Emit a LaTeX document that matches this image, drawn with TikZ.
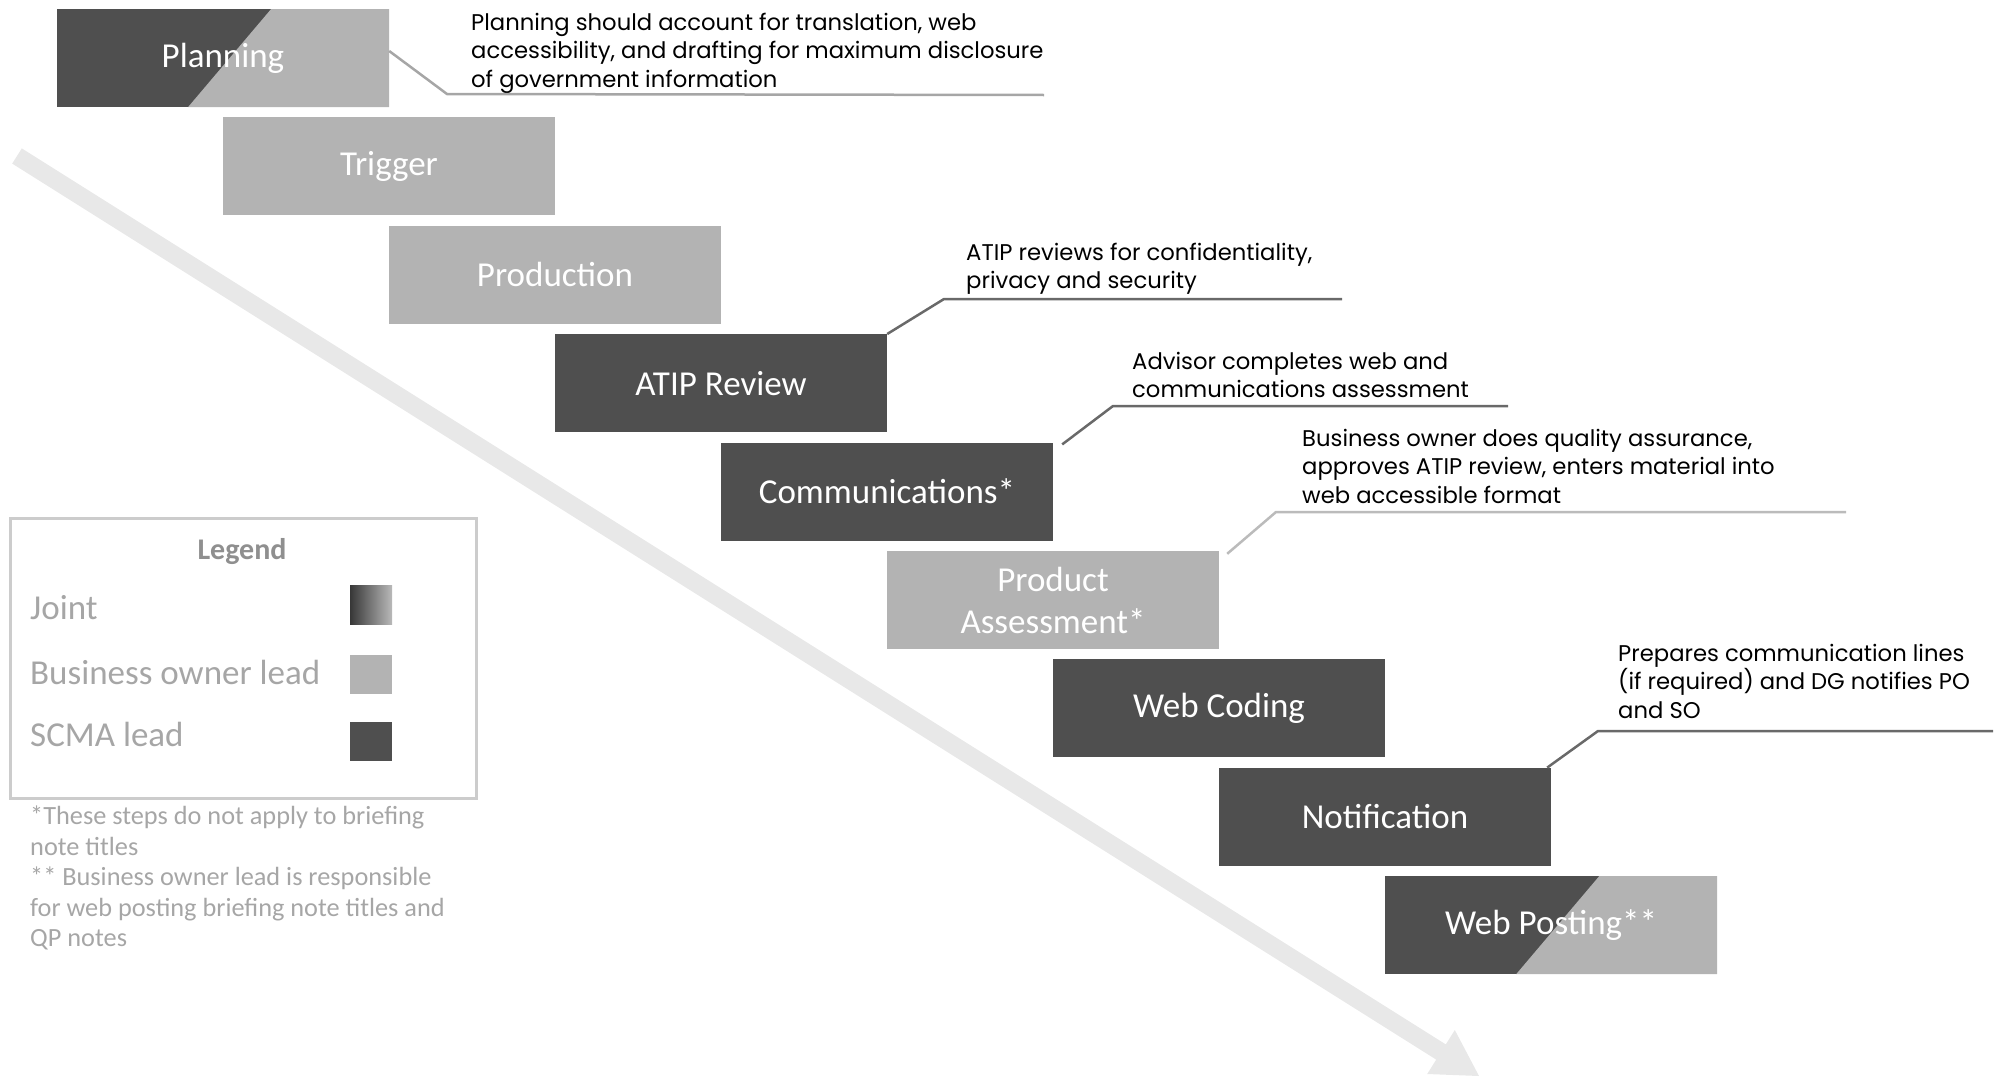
\documentclass[tikz,border=0pt]{standalone}
\usepackage{fontspec}
\setmainfont{Carlito}
\newfontfamily\notefont{Poppins}
\usetikzlibrary{calc}

\definecolor{leadDark}{HTML}{4F4F4F}
\definecolor{leadLight}{HTML}{B3B3B3}
\definecolor{flowArrow}{HTML}{E8E8E8}
\definecolor{legendLine}{HTML}{CCCCCC}
\definecolor{legendText}{HTML}{A6A6A6}
\definecolor{legendHead}{HTML}{8F8F8F}

\tikzset{
  stepbox/.style={minimum width=332pt, minimum height=98pt, inner sep=0pt,
    text=white, align=center, font=\fontsize{35}{36}\selectfont},
  scma/.style={stepbox, fill=leadDark},
  owner/.style={stepbox, fill=leadLight},
  joint/.style={stepbox, fill=leadDark,
    path picture={
      \fill[leadLight]
        ($(path picture bounding box.north west)!0.645!(path picture bounding box.north east)$)
        -- (path picture bounding box.north east)
        -- (path picture bounding box.south east)
        -- ($(path picture bounding box.south west)!0.395!(path picture bounding box.south east)$)
        -- cycle;}},
  note/.style={anchor=west, align=left, inner sep=0pt, text=black,
    font=\notefont\fontsize{22.7}{28.5}\selectfont},
  callout/.style={line width=2.5pt, draw=leadDark!85},
  calloutlight/.style={line width=2.5pt, draw=leadLight!90},
  calloutmid/.style={line width=2.5pt, draw=gray!70},
  legtext/.style={anchor=west, inner sep=0pt, text=legendText,
    font=\fontsize{35}{38}\selectfont},
  swatch/.style={minimum width=42pt, minimum height=39pt, inner sep=0pt},
}

\begin{document}
\begin{tikzpicture}[x=1pt,y=-1pt]
\useasboundingbox (0,0) rectangle (2001,1076);

% process flow arrow behind the steps
\fill[flowArrow] (21.8,148.4) -- (1445.8,1044.4) -- (1454.8,1030.0)
  -- (1479,1076) -- (1427.2,1074.0) -- (1436.2,1059.6) -- (12.2,163.6) -- cycle;

% the nine steps
\node[joint] (plan)  at (223,58)    {Planning};
\node[owner] (trig)  at (389,166.4) {Trigger};
\node[owner] (prod)  at (555,274.8) {Production};
\node[scma]  (atip)  at (721,383.2) {ATIP Review};
\node[scma]  (comm)  at (887,491.6) {Communications*};
\node[owner] (assess) at (1053,600) {Product\\[6pt]Assessment*};
\node[scma]  (code)  at (1219,708.4) {Web Coding};
\node[scma]  (notif) at (1385,816.8) {Notification};
\node[joint] (post)  at (1551,925.2) {Web Posting**};

% callout notes
\node[note] (planN) at (471,53) {Planning should account for translation, web\\accessibility, and drafting for maximum disclosure\\of government information};
\node[note] (atipN) at (966,269) {ATIP reviews for confidentiality,\\privacy and security};
\node[note] (commN) at (1132,375) {Advisor completes web and\\communications assessment};
\node[note] (assessN) at (1302,466) {Business owner does quality assurance,\\approves ATIP review, enters material into\\web accessible format};
\node[note] (notifN) at (1618,681) {Prepares communication lines\\(if required) and DG notifies PO\\and SO};

% callout leader lines
\coordinate (planK) at (447,94);   \coordinate (planE) at (1044,95);
\coordinate (atipK) at (944,299);  \coordinate (atipE) at (1342,299);
\coordinate (commK) at (1113,406); \coordinate (commE) at (1508,406);
\coordinate (assessK) at (1276,512); \coordinate (assessE) at (1846,512);
\coordinate (notifK) at (1598,731); \coordinate (notifE) at (1993,731);

\draw[calloutmid] ([yshift=7pt]plan.east) -- (planK) -- (planE);
\draw[callout] (atip.north east) -- (atipK) -- (atipE);
\draw[callout] ([xshift=9pt,yshift=-2pt]comm.north east) -- (commK) -- (commE);
\draw[calloutlight] ([xshift=8pt,yshift=-3pt]assess.north east) -- (assessK) -- (assessE);
\draw[callout] ([xshift=-4pt]notif.north east) -- (notifK) -- (notifE);

% legend
\node[draw=legendLine, line width=3pt, minimum width=466pt, minimum height=280pt,
  inner sep=0pt] (legend) at (243,658) {};
\node[text=legendHead, font=\bfseries\fontsize{30}{32}\selectfont] (legT) at (242,552) {Legend};
\node[legtext] (legJ) at (30,608) {Joint};
\node[legtext] (legB) at (30,672) {Business owner lead};
\node[legtext] (legS) at (30,734) {SCMA lead};
\node[swatch, left color=leadDark!70!black, right color=gray!55] (swJ) at (371,605) {};
\node[swatch, fill=leadLight] (swB) at (371,674) {};
\node[swatch, fill=leadDark] (swS) at (371,741) {};

\node[anchor=north west, align=left, inner sep=0pt, text=legendText,
  font=\fontsize{26.3}{30.5}\selectfont] (foot) at (30,806)
  {*These steps do not apply to briefing\\note titles\\** Business owner lead is responsible\\for web posting briefing note titles and\\QP notes};
\end{tikzpicture}
\end{document}
